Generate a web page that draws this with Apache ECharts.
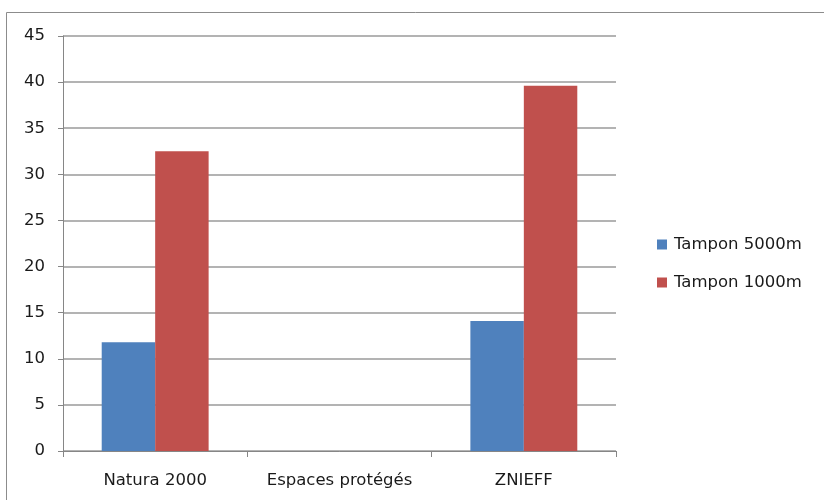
<!DOCTYPE html>
<html><head><meta charset="utf-8">
<script src="https://cdn.jsdelivr.net/npm/echarts@6/dist/echarts.min.js"></script>
<style>html,body{margin:0;padding:0;background:#fff}#c{width:824px;height:500px}</style>
</head><body><div id="c"></div>
<script>
const categories = ['Natura 2000', 'Espaces protégés', 'ZNIEFF'];
const seriesNames = ['Tampon 5000m', 'Tampon 1000m'];
const tampon5000 = [11.8, 0, 14.1];
const tampon1000 = [32.5, 0, 39.6];
const colors = ['#4F81BD', '#C0504D'];
const font = 'DejaVu Sans, sans-serif';
const chart = echarts.init(document.getElementById('c'), null, {renderer: 'canvas'});
chart.setOption({
  animation: false,
  backgroundColor: '#fff',
  graphic: [{type: 'rect', shape: {x: 6.5, y: 12.5, width: 830, height: 500}, style: {fill: 'none', stroke: '#8c8c8c', lineWidth: 1}, silent: true}],
  grid: {left: 63, right: 208, top: 36, bottom: 49},
  legend: {
    orient: 'vertical', left: 652, top: 231, itemGap: 21, itemWidth: 10, itemHeight: 10, icon: 'rect',
    textStyle: {fontFamily: font, fontSize: 16.5, color: '#1a1a1a', padding: [0, 0, 0, 2]},
    data: seriesNames
  },
  xAxis: {
    type: 'category', data: categories,
    axisLine: {lineStyle: {color: '#868686'}},
    axisTick: {show: true, interval: 0, length: 6, lineStyle: {color: '#868686'}},
    axisLabel: {interval: 0, hideOverlap: false, fontFamily: font, fontSize: 16.5, color: '#1a1a1a', margin: 21}
  },
  yAxis: {
    type: 'value', min: 0, max: 45, interval: 5,
    axisLine: {show: true, lineStyle: {color: '#868686'}},
    axisTick: {show: true, length: 5, lineStyle: {color: '#868686'}},
    splitLine: {lineStyle: {color: '#9a9a9a', width: 1.5}},
    axisLabel: {fontFamily: font, fontSize: 16.5, color: '#1a1a1a', margin: 18}
  },
  series: [
    {name: seriesNames[0], type: 'bar', data: tampon5000, itemStyle: {color: colors[0]}, barGap: '0%', barCategoryGap: '42%'},
    {name: seriesNames[1], type: 'bar', data: tampon1000, itemStyle: {color: colors[1]}, barGap: '0%', barCategoryGap: '42%'}
  ]
});
</script></body></html>
